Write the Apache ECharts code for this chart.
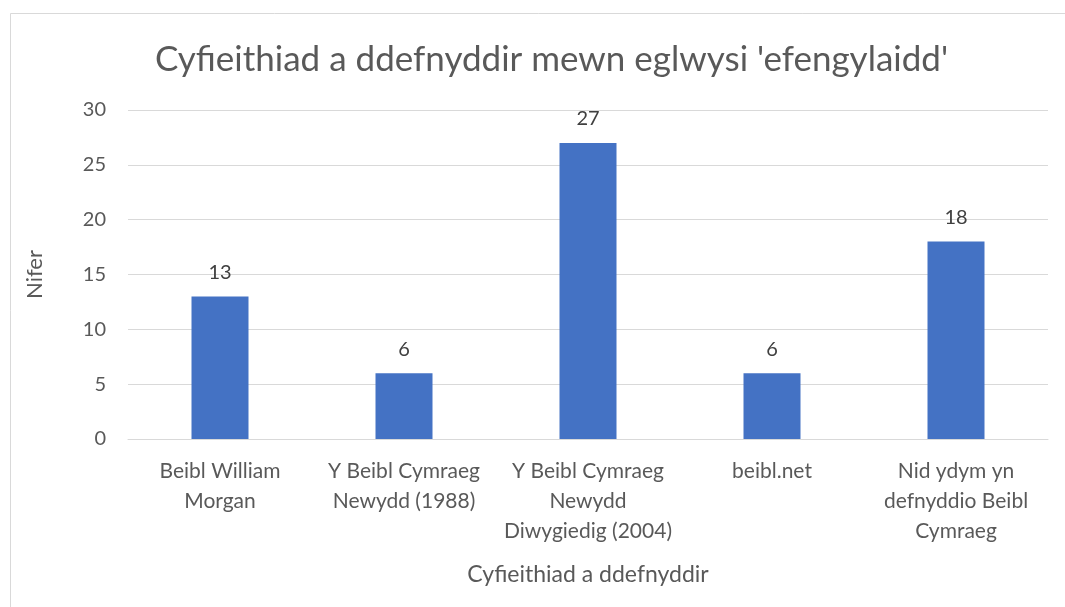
<!DOCTYPE html>
<html>
<head>
<meta charset="utf-8">
<script src="https://cdn.jsdelivr.net/npm/echarts@6/dist/echarts.min.js"></script>
<style>
html,body{margin:0;padding:0;background:#fff;}
#c{width:1065px;height:607px;}
</style>
</head>
<body>
<div id="c"></div>
<script>
const categories = [
  "Beibl William\nMorgan",
  "Y Beibl Cymraeg\nNewydd (1988)",
  "Y Beibl Cymraeg\nNewydd\nDiwygiedig (2004)",
  "beibl.net",
  "Nid ydym yn\ndefnyddio Beibl\nCymraeg"
];
const values = [13, 6, 27, 6, 18];
const titleText = "Cyfieithiad a ddefnyddir mewn eglwysi 'efengylaidd'";
const xName = "Cyfieithiad a ddefnyddir";
const yName = "Nifer";

const FONT = "Lato, 'Open Sans', sans-serif";
const chart = echarts.init(document.getElementById('c'), null, {renderer: 'canvas'});
chart.setOption({
  backgroundColor: '#fff',
  animation: false,
  graphic: [{
    type: 'rect', left: 8, top: 11,
    shape: {width: 1100, height: 700},
    style: {fill: 'none', stroke: '#d9d9d9', lineWidth: 1},
    silent: true, z: -10
  }],
  title: {
    text: titleText, left: 150, top: 37,
    textStyle: {fontFamily: FONT, fontSize: 35, fontWeight: 'normal', color: '#595959'}
  },
  grid: {left: 128, right: 17, top: 110, bottom: 168},
  xAxis: {
    type: 'category', data: categories,
    name: xName, nameLocation: 'middle', nameGap: 124,
    nameTextStyle: {fontFamily: FONT, fontSize: 23, color: '#595959'},
    axisLine: {lineStyle: {color: '#d9d9d9', width: 1}},
    axisTick: {show: false},
    axisLabel: {fontFamily: FONT, fontSize: 21, color: '#595959', margin: 17, lineHeight: 30, interval: 0}
  },
  yAxis: {
    type: 'value', min: 0, max: 30, interval: 5,
    name: yName, nameLocation: 'middle', nameGap: 82, nameRotate: 90,
    nameTextStyle: {fontFamily: FONT, fontSize: 22, color: '#595959'},
    axisLine: {show: false}, axisTick: {show: false},
    splitLine: {lineStyle: {color: '#d9d9d9', width: 1}},
    axisLabel: {fontFamily: FONT, fontSize: 20, color: '#595959', margin: 22}
  },
  series: [{
    type: 'bar', data: values, barWidth: 57,
    itemStyle: {color: '#4472c4'},
    label: {show: true, position: 'top', distance: 14, fontFamily: FONT, fontSize: 20, color: '#404040'}
  }]
});
</script>
</body>
</html>
